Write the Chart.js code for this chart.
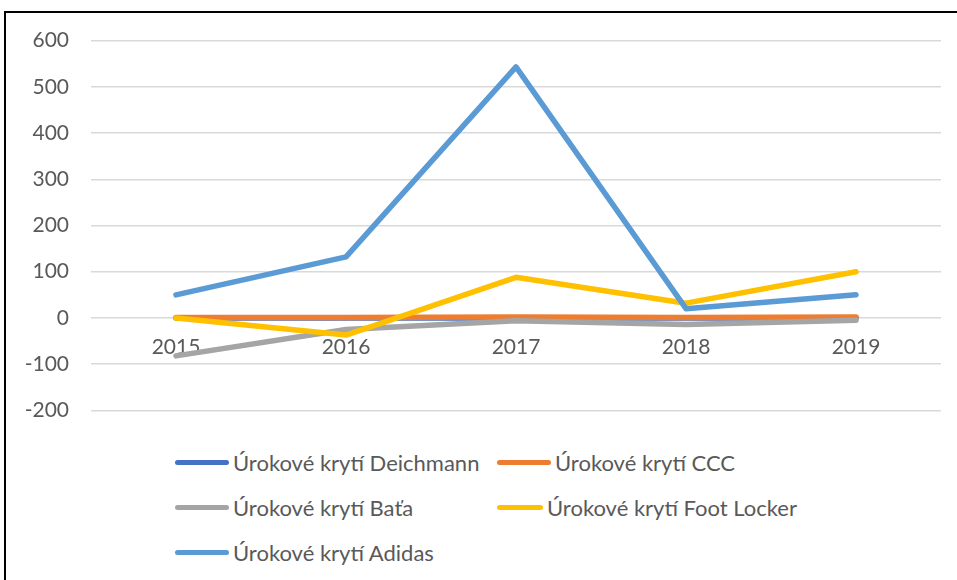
<!DOCTYPE html>
<html>
<head>
<meta charset="utf-8">
<script src="https://cdn.jsdelivr.net/npm/chart.js@4"></script>
<style>
    html, body { margin: 0; padding: 0; background: #fff; }
    body { width: 957px; height: 580px; overflow: hidden; position: relative; font-family: Lato, sans-serif; }
    .frame { position: absolute; left: 4px; top: 11px; width: 1000px; height: 620px; border: 2px solid #000; box-sizing: border-box; }
    .chart-box { position: absolute; left: 0; top: 6px; width: 957px; height: 439px; }
    .legend { position: absolute; left: 175px; top: 448px; display: grid; grid-template-columns: 322px 300px; row-gap: 17px; }
    .legend-item { display: flex; align-items: center; height: 28px; color: #595959; font-size: 22px; white-space: nowrap; }
    .legend-line { width: 54px; height: 5px; border-radius: 3px; margin-right: 4px; }
</style>
</head>
<body>
<div class="frame"></div>
<div class="chart-box"><canvas id="lineChart"></canvas></div>
<div class="legend" id="legend"></div>
<script>
// Úrokové krytí – chart data

const years = ['2015', '2016', '2017', '2018', '2019'];

const seriesNames = [
    'Úrokové krytí Deichmann',
    'Úrokové krytí CCC',
    'Úrokové krytí Baťa',
    'Úrokové krytí Foot Locker',
    'Úrokové krytí Adidas'
];

const deichmann = [0, 0, 0, 0, 0];
const ccc = [1, 1, 2, 1, 2];
const bata = [-82, -25, -6, -14, -5];
const footLocker = [0, -37, 88, 32, 100];
const adidas = [50, 132, 543, 20, 50];

const yTicks = [-200, -100, 0, 100, 200, 300, 400, 500, 600];

const seriesColors = ['#4472C4', '#ED7D31', '#A5A5A5', '#FFC000', '#5B9BD5'];

let lineChart = null;

function buildDatasets() {
    const values = [deichmann, ccc, bata, footLocker, adidas];
    return values.map((data, i) => ({
        label: seriesNames[i],
        data,
        borderColor: seriesColors[i],
        backgroundColor: seriesColors[i],
        borderWidth: 5.5,
        borderCapStyle: 'round',
        borderJoinStyle: 'round',
        pointRadius: 0,
        tension: 0,
        // Excel paints later series on top
        order: values.length - i
    }));
}

function initChart() {
    const ctx = document.getElementById('lineChart').getContext('2d');

    lineChart = new Chart(ctx, {
        type: 'line',
        data: {
            labels: years,
            datasets: buildDatasets()
        },
        options: {
            responsive: true,
            maintainAspectRatio: false,
            animation: false,
            layout: {
                padding: { left: 10, right: 16, top: 34, bottom: 0 }
            },
            plugins: {
                legend: { display: false },
                tooltip: { enabled: false }
            },
            scales: {
                x: {
                    position: { y: 0 },
                    offset: true,
                    grid: { display: false },
                    border: { display: false },
                    ticks: {
                        color: '#595959',
                        font: { family: 'Lato', size: 21 },
                        padding: 9,
                        maxRotation: 0
                    }
                },
                y: {
                    min: -200,
                    max: 600,
                    afterBuildTicks: scale => {
                        scale.ticks = yTicks.map(v => ({ value: v }));
                    },
                    afterFit: scale => {
                        scale.width = 81;
                    },
                    grid: {
                        color: '#D9D9D9',
                        lineWidth: 1.5,
                        drawTicks: false
                    },
                    border: { display: false },
                    ticks: {
                        color: '#595959',
                        font: { family: 'Lato', size: 21 },
                        padding: 22
                    }
                }
            }
        }
    });

    renderLegend();
}

function renderLegend() {
    const container = document.getElementById('legend');
    container.innerHTML = lineChart.data.datasets.map(ds => `
        <div class="legend-item">
            <span class="legend-line" style="background:${ds.borderColor}"></span>
            <span>${ds.label}</span>
        </div>
    `).join('');
}

initChart();
</script>
</body>
</html>
